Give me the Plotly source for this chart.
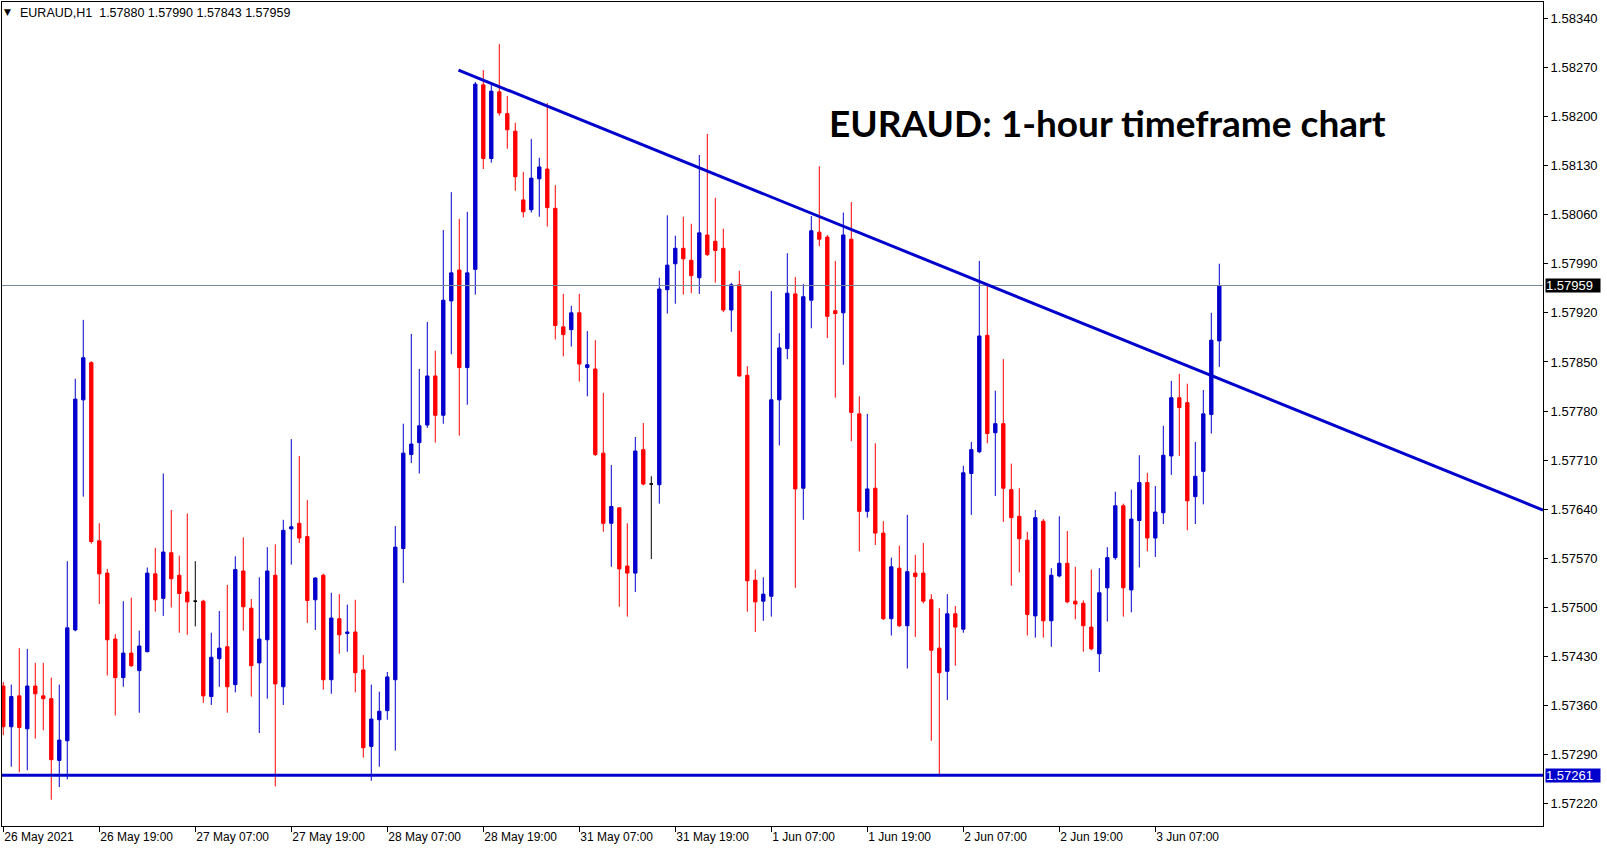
import plotly.graph_objects as go

# ---------------- data ----------------
symbol_header = "EURAUD,H1\u00a0\u00a01.57880 1.57990 1.57843 1.57959"
title_text = "EURAUD: 1-hour timeframe chart"

opens = [1.57388, 1.57330, 1.57374, 1.57327, 1.57388, 1.57374, 1.57370, 1.57282, 1.57310, 1.57468,
         1.57796, 1.57849, 1.57595, 1.57549, 1.57455, 1.57400, 1.57435, 1.57410, 1.57437, 1.57548,
         1.57513, 1.57578, 1.57546, 1.57522, 1.57509, 1.57509, 1.57373, 1.57427, 1.57444, 1.57390,
         1.57552, 1.57499, 1.57421, 1.57454, 1.57546, 1.57387, 1.57612, 1.57620, 1.57601, 1.57511,
         1.57546, 1.57397, 1.57484, 1.57463, 1.57465, 1.57411, 1.57302, 1.57340, 1.57353, 1.57397,
         1.57584, 1.57718, 1.57735, 1.57760, 1.57830, 1.57774, 1.57937, 1.57981, 1.57842, 1.57982,
         1.58245, 1.58140, 1.58235, 1.58204, 1.58179, 1.58081, 1.58067, 1.58111, 1.58125, 1.58069,
         1.57900, 1.57896, 1.57920, 1.57842, 1.57840, 1.57720, 1.57620, 1.57642, 1.57559, 1.57549,
         1.57725, 1.57676, 1.57675, 1.57953, 1.57990, 1.58012, 1.57995, 1.57970, 1.58031, 1.58022,
         1.58012, 1.57924, 1.57960, 1.57831, 1.57539, 1.57509, 1.57516, 1.57796, 1.57869, 1.57947,
         1.57670, 1.57938, 1.58035, 1.58028, 1.57923, 1.57920, 1.58025, 1.57776, 1.57637, 1.57670,
         1.57606, 1.57484, 1.57556, 1.57474, 1.57549, 1.57549, 1.57511, 1.57442, 1.57409, 1.57491,
         1.57469, 1.57691, 1.57722, 1.57888, 1.57749, 1.57762, 1.57668, 1.57630, 1.57596, 1.57488,
         1.57623, 1.57481, 1.57545, 1.57563, 1.57509, 1.57506, 1.57472, 1.57434, 1.57528, 1.57571,
         1.57645, 1.57525, 1.57624, 1.57678, 1.57599, 1.57635, 1.57716, 1.57799, 1.57792, 1.57658,
         1.57694, 1.57775, 1.57880]
highs = [1.57394, 1.57390, 1.57442, 1.57441, 1.57421, 1.57421, 1.57400, 1.57390, 1.57566, 1.57826,
         1.57910, 1.57851, 1.57620, 1.57555, 1.57462, 1.57509, 1.57514, 1.57467, 1.57557, 1.57585,
         1.57691, 1.57639, 1.57574, 1.57634, 1.57566, 1.57511, 1.57464, 1.57495, 1.57532, 1.57573,
         1.57600, 1.57512, 1.57543, 1.57586, 1.57590, 1.57625, 1.57740, 1.57716, 1.57653, 1.57543,
         1.57548, 1.57521, 1.57519, 1.57504, 1.57511, 1.57432, 1.57390, 1.57380, 1.57408, 1.57616,
         1.57762, 1.57890, 1.57840, 1.57907, 1.57866, 1.58038, 1.58092, 1.58054, 1.58064, 1.58249,
         1.58266, 1.58246, 1.58303, 1.58229, 1.58191, 1.58121, 1.58168, 1.58141, 1.58219, 1.58102,
         1.57947, 1.57930, 1.57947, 1.57894, 1.57881, 1.57806, 1.57703, 1.57643, 1.57620, 1.57743,
         1.57763, 1.57687, 1.57970, 1.58059, 1.58030, 1.58057, 1.58047, 1.58145, 1.58175, 1.58084,
         1.58040, 1.57963, 1.57980, 1.57844, 1.57554, 1.57543, 1.57951, 1.57891, 1.58005, 1.57971,
         1.57961, 1.58058, 1.58129, 1.58031, 1.57994, 1.58063, 1.58078, 1.57801, 1.57776, 1.57734,
         1.57623, 1.57571, 1.57588, 1.57632, 1.57575, 1.57592, 1.57519, 1.57499, 1.57519, 1.57502,
         1.57702, 1.57736, 1.57994, 1.57960, 1.57809, 1.57854, 1.57705, 1.57670, 1.57608, 1.57639,
         1.57626, 1.57556, 1.57630, 1.57609, 1.57558, 1.57510, 1.57554, 1.57556, 1.57586, 1.57665,
         1.57648, 1.57668, 1.57717, 1.57692, 1.57673, 1.57759, 1.57823, 1.57833, 1.57819, 1.57736,
         1.57810, 1.57920, 1.57990]
lows = [1.57318, 1.57273, 1.57265, 1.57268, 1.57313, 1.57325, 1.57226, 1.57244, 1.57255, 1.57466,
        1.57658, 1.57591, 1.57505, 1.57403, 1.57346, 1.57387, 1.57415, 1.57350, 1.57436, 1.57494,
        1.57488, 1.57500, 1.57464, 1.57461, 1.57473, 1.57364, 1.57361, 1.57387, 1.57350, 1.57379,
        1.57467, 1.57373, 1.57321, 1.57370, 1.57245, 1.57361, 1.57561, 1.57592, 1.57478, 1.57468,
        1.57383, 1.57377, 1.57434, 1.57437, 1.57379, 1.57286, 1.57253, 1.57273, 1.57340, 1.57296,
        1.57535, 1.57706, 1.57691, 1.57756, 1.57735, 1.57762, 1.57861, 1.57745, 1.57789, 1.57946,
        1.58125, 1.58134, 1.58201, 1.58154, 1.58094, 1.58056, 1.58063, 1.58057, 1.58043, 1.57882,
        1.57858, 1.57872, 1.57822, 1.57801, 1.57716, 1.57608, 1.57558, 1.57501, 1.57487, 1.57522,
        1.57674, 1.57569, 1.57648, 1.57919, 1.57933, 1.57946, 1.57948, 1.57947, 1.58001, 1.57963,
        1.57921, 1.57893, 1.57829, 1.57494, 1.57465, 1.57481, 1.57487, 1.57731, 1.57854, 1.57528,
        1.57625, 1.57898, 1.58015, 1.57884, 1.57799, 1.57846, 1.57737, 1.57580, 1.57628, 1.57589,
        1.57482, 1.57460, 1.57472, 1.57413, 1.57458, 1.57506, 1.57310, 1.57259, 1.57368, 1.57417,
        1.57464, 1.57632, 1.57720, 1.57734, 1.57659, 1.57622, 1.57531, 1.57550, 1.57460, 1.57457,
        1.57457, 1.57444, 1.57543, 1.57506, 1.57483, 1.57437, 1.57439, 1.57408, 1.57480, 1.57568,
        1.57487, 1.57493, 1.57557, 1.57580, 1.57572, 1.57619, 1.57689, 1.57716, 1.57610, 1.57619,
        1.57647, 1.57748, 1.57843]
closes = [1.57330, 1.57373, 1.57329, 1.57388, 1.57377, 1.57370, 1.57283, 1.57311, 1.57471, 1.57797,
          1.57856, 1.57594, 1.57548, 1.57454, 1.57400, 1.57435, 1.57417, 1.57445, 1.57549, 1.57511,
          1.57579, 1.57541, 1.57520, 1.57508, 1.57509, 1.57374, 1.57429, 1.57442, 1.57387, 1.57554,
          1.57501, 1.57417, 1.57455, 1.57552, 1.57391, 1.57610, 1.57615, 1.57599, 1.57510, 1.57542,
          1.57397, 1.57485, 1.57461, 1.57465, 1.57407, 1.57300, 1.57341, 1.57352, 1.57401, 1.57586,
          1.57720, 1.57733, 1.57759, 1.57830, 1.57774, 1.57938, 1.57977, 1.57842, 1.57977, 1.58246,
          1.58140, 1.58236, 1.58205, 1.58181, 1.58114, 1.58064, 1.58112, 1.58128, 1.58070, 1.57902,
          1.57889, 1.57920, 1.57847, 1.57846, 1.57718, 1.57620, 1.57644, 1.57555, 1.57549, 1.57723,
          1.57676, 1.57676, 1.57954, 1.57988, 1.58012, 1.57997, 1.57973, 1.58034, 1.58003, 1.58009,
          1.57924, 1.57960, 1.57830, 1.57538, 1.57508, 1.57519, 1.57796, 1.57870, 1.57948, 1.57669,
          1.57943, 1.58037, 1.58025, 1.57915, 1.57919, 1.58031, 1.57778, 1.57637, 1.57669, 1.57606,
          1.57484, 1.57558, 1.57474, 1.57551, 1.57544, 1.57509, 1.57439, 1.57407, 1.57491, 1.57472,
          1.57692, 1.57725, 1.57887, 1.57748, 1.57762, 1.57670, 1.57628, 1.57598, 1.57490, 1.57628,
          1.57481, 1.57546, 1.57563, 1.57508, 1.57505, 1.57474, 1.57441, 1.57521, 1.57571, 1.57645,
          1.57528, 1.57626, 1.57678, 1.57599, 1.57636, 1.57717, 1.57799, 1.57785, 1.57652, 1.57687,
          1.57776, 1.57881, 1.57959]

x_tick_labels = ["26 May 2021", "26 May 19:00", "27 May 07:00", "27 May 19:00", "28 May 07:00",
                 "28 May 19:00", "31 May 07:00", "31 May 19:00", "1 Jun 07:00", "1 Jun 19:00",
                 "2 Jun 07:00", "2 Jun 19:00", "3 Jun 07:00"]
bars_per_label = 12

y_tick_values = [1.58340, 1.58270, 1.58200, 1.58130, 1.58060, 1.57990, 1.57920, 1.57850, 1.57780,
                 1.57710, 1.57640, 1.57570, 1.57500, 1.57430, 1.57360, 1.57290, 1.57220]

current_price = 1.57959
support_level = 1.57261
trend_start = (56.9, 1.58266)   # (bar index, price)
trend_through = (152, 1.57826)

# ---------------- layout constants ----------------
W, H = 1607, 850
L, R, T, B = 2, 64, 2, 24
X_RANGE = [-0.16, 192.46]
Y_RANGE = [1.571885, 1.583631]

BLUE = "#0000CD"
RED = "#FF0000"
FONT = "Liberation Sans"

def paper_x(px):
    return (px - L) / (W - L - R)

def paper_y(py):
    return 1 - (py - T) / (H - T - B)

n = len(opens)
idx = list(range(n))
normal = [i for i in idx if opens[i] != closes[i]]
doji = [i for i in idx if opens[i] == closes[i]]

fig = go.Figure()

fig.add_trace(go.Candlestick(
    x=normal,
    open=[opens[i] for i in normal],
    high=[highs[i] for i in normal],
    low=[lows[i] for i in normal],
    close=[closes[i] for i in normal],
    increasing=dict(line=dict(color=BLUE, width=1), fillcolor=BLUE),
    decreasing=dict(line=dict(color=RED, width=1), fillcolor=RED),
    whiskerwidth=0,
    hoverinfo="skip",
    showlegend=False,
))
fig.add_trace(go.Candlestick(
    x=doji,
    open=[opens[i] for i in doji],
    high=[highs[i] for i in doji],
    low=[lows[i] for i in doji],
    close=[closes[i] for i in doji],
    increasing=dict(line=dict(color="black", width=1), fillcolor="black"),
    decreasing=dict(line=dict(color="black", width=1), fillcolor="black"),
    whiskerwidth=0,
    hoverinfo="skip",
    showlegend=False,
))

# current price line
fig.add_trace(go.Scatter(x=X_RANGE, y=[current_price, current_price], mode="lines",
                         line=dict(color="#778899", width=1), hoverinfo="skip", showlegend=False))
# support line
fig.add_trace(go.Scatter(x=X_RANGE, y=[support_level, support_level], mode="lines",
                         line=dict(color=BLUE, width=3), hoverinfo="skip", showlegend=False))
# trend line extended to the right edge
slope = (trend_through[1] - trend_start[1]) / (trend_through[0] - trend_start[0])
x_end = X_RANGE[1]
fig.add_trace(go.Scatter(x=[trend_start[0], x_end],
                         y=[trend_start[1], trend_start[1] + slope * (x_end - trend_start[0])],
                         mode="lines", line=dict(color=BLUE, width=3),
                         hoverinfo="skip", showlegend=False))

tick_vals = [k * bars_per_label for k in range(len(x_tick_labels))]

fig.update_layout(
    width=W, height=H,
    margin=dict(l=L, r=R, t=T, b=B, pad=0),
    paper_bgcolor="white", plot_bgcolor="white",
    boxgap=0.4,
    hovermode=False,
    font=dict(family=FONT, size=12, color="black"),
    xaxis=dict(
        range=X_RANGE, rangeslider=dict(visible=False),
        showgrid=False, zeroline=False,
        showline=True, linecolor="black", linewidth=1, mirror=True,
        tickmode="array", tickvals=tick_vals, ticktext=x_tick_labels,
        ticks="outside", ticklen=5, tickcolor="black", tickwidth=1,
        ticklabelposition="outside right",
        tickfont=dict(family=FONT, size=12, color="black"),
    ),
    yaxis=dict(
        range=Y_RANGE, side="right",
        showgrid=False, zeroline=False,
        showline=True, linecolor="black", linewidth=1, mirror=True,
        tickmode="array", tickvals=y_tick_values,
        ticktext=[f"{v:.5f}" for v in y_tick_values],
        ticks="outside", ticklen=4, tickcolor="black", tickwidth=1,
        tickfont=dict(family=FONT, size=13, color="black"),
    ),
)

annotations = [
    dict(xref="paper", yref="paper", x=paper_x(2), y=paper_y(12), text="\u25BC",
         showarrow=False, xanchor="left", yanchor="middle",
         font=dict(family="DejaVu Sans", size=9, color="black")),
    dict(xref="paper", yref="paper", x=paper_x(18), y=paper_y(13), text=symbol_header,
         showarrow=False, xanchor="left", yanchor="middle",
         font=dict(family=FONT, size=12.5, color="black")),
    dict(xref="paper", yref="paper", x=paper_x(827), y=paper_y(123), text=f"<b>{title_text}</b>",
         showarrow=False, xanchor="left", yanchor="middle",
         font=dict(family="Lato", size=37, color="black")),
    dict(xref="paper", yref="y", x=paper_x(1545), y=current_price, text=f"{current_price:.5f}",
         showarrow=False, xanchor="left", yanchor="middle", align="left",
         bgcolor="black", width=54, height=13, borderpad=0,
         font=dict(family=FONT, size=13, color="white")),
    dict(xref="paper", yref="y", x=paper_x(1545), y=support_level, text=f"{support_level:.5f}",
         showarrow=False, xanchor="left", yanchor="middle", align="left",
         bgcolor=BLUE, width=54, height=13, borderpad=0,
         font=dict(family=FONT, size=13, color="white")),
]
fig.update_layout(annotations=annotations)

fig.write_html("out.html", config={"displayModeBar": False},
               post_script="document.body.style.margin='0';document.body.style.padding='0';")
